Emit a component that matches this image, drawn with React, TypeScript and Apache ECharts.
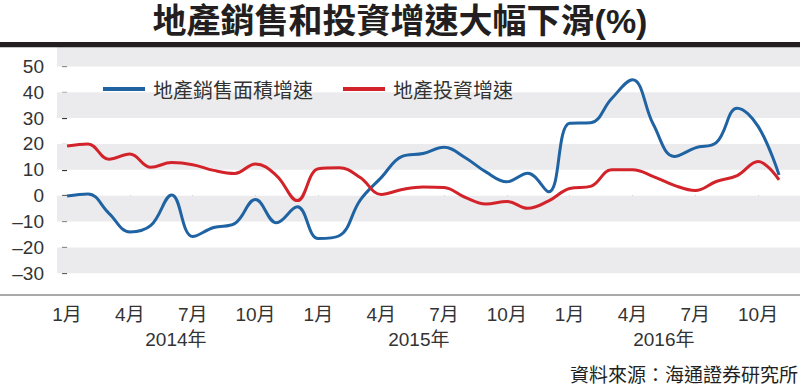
import React, { useEffect, useRef } from "react";
import * as echarts from "echarts";

// Monthly points, Jan 2014 (index 0) .. Nov 2016 (index 34)
const monthIndex = [
  0, 1, 2, 3, 4, 5, 6, 7, 8, 9, 10, 11,
  12, 13, 14, 15, 16, 17, 18, 19, 20, 21, 22, 23,
  24, 25, 26, 27, 28, 29, 30, 31, 32, 33, 34,
];
const salesArea = [
  -0.1, 0.7, -6.8, -14.0, -11.5, 0.3, -15.8, -12.3, -10.8, -1.5, -10.5, -4.3,
  -16.6, -15.5, -1.7, 7.0, 15.2, 16.3, 18.7, 14.8, 9.2, 5.4, 8.7, 1.5,
  28.0, 28.2, 37.5, 44.8, 27.5, 15.2, 18.5, 20.5, 33.8, 26.8, 8.0,
];
const investment = [
  19.2, 20.0, 14.1, 16.1, 11.0, 12.8, 12.0, 9.8, 8.6, 12.3, 7.8, -1.9,
  10.4, 10.8, 7.0, 0.5, 2.4, 3.4, 3.2, -0.6, -3.2, -2.2, -4.9, -2.0,
  2.8, 3.6, 10.0, 10.0, 7.4, 4.0, 2.0, 5.5, 7.8, 13.2, 6.1,
];
const seriesNames = ["地產銷售面積增速", "地產投資增速"];
const xTickValues = [0, 3, 6, 9, 12, 15, 18, 21, 24, 27, 30, 33];
const xTickLabels = ["1月", "4月", "7月", "10月", "1月", "4月", "7月", "10月", "1月", "4月", "7月", "10月"];
const yearLabels = ["2014年", "2015年", "2016年"];
const yearLabelAt = [5.2, 16.8, 28.5];
const yTickValues = [-30, -20, -10, 0, 10, 20, 30, 40, 50];
const yMin = -38.4;
const yMax = 57.5;
const xMin = -0.48;
const xMax = 35.0;
const greyBands = [
  [50, 57.5],
  [30, 40],
  [10, 20],
  [-10, 0],
  [-30, -20],
];
const title = "地產銷售和投資增速大幅下滑(%)";
const source = "資料來源：海通證券研究所";

const FONT = "'Liberation Sans', 'Noto Sans CJK TC', sans-serif";
const CJK = "'Noto Sans CJK TC', 'Liberation Sans', sans-serif";

export default function App() {
  const ref = useRef<HTMLDivElement>(null);
  useEffect(() => {
    document.body.style.margin = "0";
    const chart = echarts.init(ref.current!, null, { renderer: "svg" });
    const pairs = (vals: number[]) => vals.map((v, i) => [monthIndex[i], v]);
    chart.setOption({
      animation: false,
      backgroundColor: "#ffffff",
      grid: { left: 57, right: 0, top: 47, bottom: 91, containLabel: false },
      legend: {
        data: seriesNames,
        left: 98,
        top: 74,
        icon: "rect",
        itemWidth: 42,
        itemHeight: 4,
        itemGap: 30,
        textStyle: { fontSize: 20, fontFamily: CJK, color: "#333", padding: [0, 0, 0, 3] },
      },
      xAxis: [
        {
          type: "value",
          min: xMin,
          max: xMax,
          position: "bottom",
          splitLine: { show: false },
          axisLine: { show: false },
          axisTick: {
            show: true,
            length: 6,
            customValues: xTickValues,
            lineStyle: { color: "#555", width: 1.2 },
          },
          axisLabel: {
            customValues: xTickValues,
            margin: 10,
            fontSize: 19,
            fontFamily: FONT,
            color: "#333",
            formatter: (v: number) => {
              const k = xTickValues.indexOf(Math.round(v));
              return k >= 0 ? xTickLabels[k] : "";
            },
          },
        },
        {
          type: "value",
          min: xMin,
          max: xMax,
          position: "bottom",
          splitLine: { show: false },
          axisLine: { show: false },
          axisTick: { show: false },
          axisLabel: {
            customValues: yearLabelAt,
            margin: 35,
            fontSize: 19,
            fontFamily: FONT,
            color: "#333",
            formatter: (v: number) => {
              const k = yearLabelAt.findIndex((p) => Math.abs(p - v) < 0.01);
              return k >= 0 ? yearLabels[k] : "";
            },
          },
        },
      ],
      yAxis: {
        type: "value",
        min: yMin,
        max: yMax,
        offset: 4,
        splitLine: { show: false },
        splitArea: { show: false },
        axisLine: { show: false },
        axisTick: {
          show: true,
          length: 5,
          customValues: yTickValues,
          lineStyle: { color: "#333", width: 1.2 },
        },
        axisLabel: {
          customValues: yTickValues,
          margin: 9,
          fontSize: 19,
          fontFamily: FONT,
          color: "#333",
          formatter: (v: number) => (v < 0 ? "\u2013" + -v : String(v)),
        },
      },
      series: [
        {
          name: seriesNames[0],
          type: "line",
          data: pairs(salesArea),
          smooth: 0.4,
          symbol: "none",
          lineStyle: { color: "#1f63a3", width: 3 },
          itemStyle: { color: "#1f63a3" },
          z: 3,
          markArea: {
            silent: true,
            itemStyle: { color: "#ebebed" },
            data: greyBands.map(([lo, hi]) => [
              { coord: [xMin, lo] },
              { coord: [xMax, hi] },
            ]),
          },
        },
        {
          name: seriesNames[1],
          type: "line",
          data: pairs(investment),
          smooth: 0.4,
          symbol: "none",
          lineStyle: { color: "#d2232a", width: 3 },
          itemStyle: { color: "#d2232a" },
          z: 4,
        },
      ],
      graphic: [
        {
          type: "text",
          left: "center",
          top: 2,
          z: 100,
          style: {
            text: title,
            fontSize: 34,
            lineHeight: 38,
            fontWeight: "bold",
            fontFamily: FONT,
            fill: "#231f20",
          },
        },
        {
          type: "rect",
          z: 100,
          shape: { x: 0, y: 42, width: 800, height: 5.3 },
          style: { fill: "#231f20" },
        },
        {
          type: "line",
          z: 100,
          shape: { x1: 0, y1: 295, x2: 800, y2: 295 },
          style: { stroke: "#555", lineWidth: 1.2 },
        },
        {
          type: "text",
          right: 2,
          top: 365,
          z: 100,
          style: { text: source, fontSize: 19, lineHeight: 20, fontFamily: FONT, fill: "#231f20" },
        },
      ],
    });
    return () => chart.dispose();
  }, []);
  return <div ref={ref} style={{ width: 800, height: 386 }} />;
}
